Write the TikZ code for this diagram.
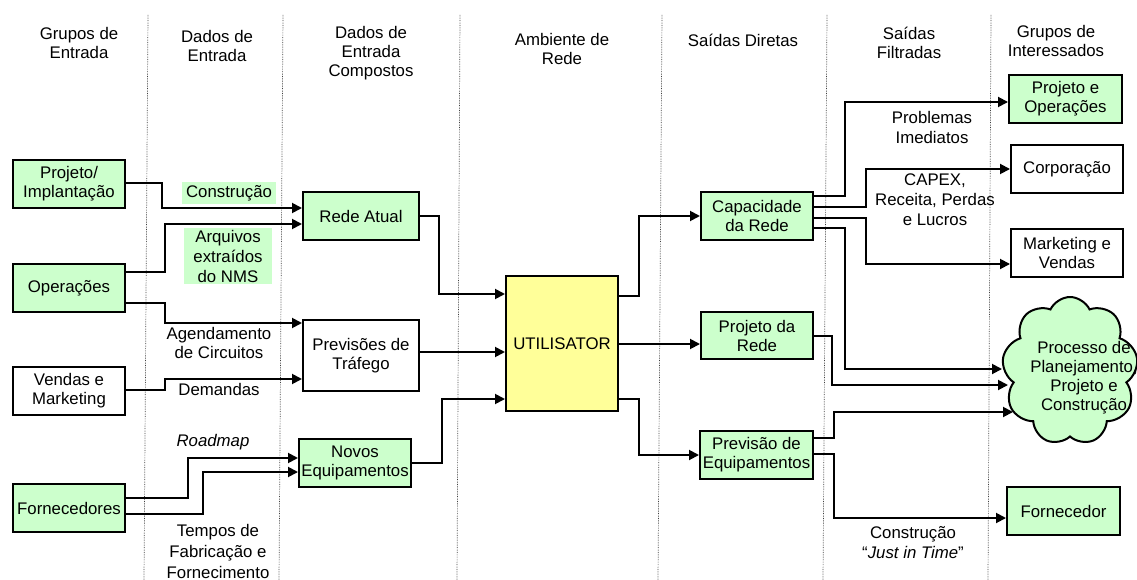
\documentclass[tikz,border=0pt]{standalone}
\usepackage{fontspec}
\setmainfont{Liberation Sans}
\usetikzlibrary{arrows.meta,shapes.symbols}
\definecolor{boxgreen}{HTML}{CCFFCC}
\definecolor{boxyellow}{HTML}{FFFF99}
\begin{document}
\begin{tikzpicture}[x=1pt,y=-1pt,
  font=\fontsize{16.8}{19}\selectfont,
  box/.style={draw, line width=2pt, align=center, inner sep=0pt,
              minimum width=112pt, minimum height=48pt},
  gbox/.style={box, fill=boxgreen},
  wbox/.style={box, fill=white},
  arr/.style={line width=1.9pt, -{Triangle[length=10pt,width=10pt]}},
  lbl/.style={align=center, inner sep=0pt},
  hl/.style={lbl, fill=boxgreen},
  sep/.style={densely dotted, line width=0.7pt, black!75}
]
\useasboundingbox (0,0) rectangle (1137,580);

% column separators
\draw[sep] (148,15) -- (144,580);
\draw[sep] (283,15) -- (279,580);
\draw[sep] (460,15) -- (457,580);
\draw[sep] (662,15) -- (658,580);
\draw[sep] (827,15) -- (823,580);
\draw[sep] (991,15) -- (988,580);

% column headings
\node[lbl] (h1) at (79,42.5)  {Grupos de\\Entrada};
\node[lbl] (h2) at (217,46)   {Dados de\\Entrada};
\node[lbl] (h3) at (371,53)   {Dados de\\Entrada\\Compostos};
\node[lbl] (h4) at (562,49)   {Ambiente de\\Rede};
\node[lbl] (h5) at (743,40)   {Saídas Diretas};
\node[lbl] (h6) at (909,42.5) {Saídas\\Filtradas};
\node[lbl] (h7) at (1056,41)  {Grupos de\\Interessados};

% input groups
\node[gbox] (pi) at (69,184) {Projeto/\\Implantação};
\node[gbox] (op) at (69,288) {Operações};
\node[wbox] (vm) at (69,391) {Vendas e\\Marketing};
\node[gbox] (fo) at (69,508) {Fornecedores};

% composed input data
\node[gbox, minimum width=116pt] (ra) at (361,216) {Rede Atual};
\node[wbox, minimum width=116pt, minimum height=71pt] (pt) at (361,355.5) {Previsões de\\Tráfego};
\node[gbox] (ne) at (355,463) {Novos\\Equipamentos};

% network environment
\node[box, fill=boxyellow, minimum height=135pt] (ut) at (562,343.5) {UTILISATOR};

% direct outputs
\node[gbox] (cr) at (757,216)   {Capacidade\\da Rede};
\node[gbox, minimum height=47pt] (pr) at (757,335.5) {Projeto da\\Rede};
\node[gbox, minimum width=113pt] (pe) at (756.5,455) {Previsão de\\Equipamentos};

% stakeholder groups
\node[gbox, minimum width=113pt] (po) at (1065.5,99) {Projeto e\\Operações};
\node[wbox] (co) at (1067,169) {Corporação};
\node[wbox] (mv) at (1067,253) {Marketing e\\Vendas};
\node[gbox, minimum width=113pt] (fr) at (1063.5,511) {Fornecedor};
\node[cloud, draw, line width=2pt, fill=boxgreen, cloud puffs=9, cloud puff arc=130,
      cloud ignores aspect, minimum width=136pt, minimum height=148pt, inner sep=0pt]
      (cl) at (1070,371) {};
\node[lbl] (clt) at (1084,378) {Processo de\\Planejamento,\\Projeto e\\Construção};
\coordinate (cl1) at (1002,369);
\coordinate (cl2) at (1008,385);
\coordinate (cl3) at (1013,412);

% edge labels
\node[hl, minimum width=94pt, minimum height=22pt] (lc) at (229,193) {Construção};
\node[hl, minimum width=88pt, minimum height=56pt,
      font=\fontsize{16.8}{20}\selectfont] (la) at (228,256) {Arquivos\\extraídos\\do NMS};
\node[lbl] (lag) at (219,343) {Agendamento\\de Circuitos};
\node[lbl] (ld) at (219,389) {Demandas};
\node[lbl, font=\fontsize{16.8}{19}\selectfont\itshape] (lr) at (213,442) {Roadmap};
\node[lbl, font=\fontsize{16.8}{21}\selectfont] (lt) at (218,551) {Tempos de\\Fabricação e\\Fornecimento};
\node[lbl, font=\fontsize{16.8}{20}\selectfont] (lp) at (932,127) {Problemas\\Imediatos};
\node[lbl, font=\fontsize{16.8}{20}\selectfont] (lx) at (935,200) {CAPEX,\\Receita, Perdas\\e Lucros};
\node[lbl, font=\fontsize{16.8}{20}\selectfont] (lj) at (913,543) {Construção\\“\textit{Just in Time}”};

% inputs to composed data
\draw[arr] (pi.east |- 0,183) -- (162,183) |- (ra.west |- 0,208);
\draw[arr] (op.east |- 0,272) -- (165,272) |- (ra.west |- 0,224);
\draw[arr] (op.east |- 0,303) -- (165,303) |- (pt.west |- 0,323);
\draw[arr] (vm.east |- 0,390) -- (165,390) |- (pt.west |- 0,379);
\draw[arr] (fo.east |- 0,498) -- (188,498) |- (ne.west |- 0,458);
\draw[arr] (fo.east |- 0,514) -- (203,514) |- (ne.west |- 0,472);

% composed data to UTILISATOR
\draw[arr] (ra.east) -- (439,216) |- (ut.west |- 0,294);
\draw[arr] (pt.east |- 0,352) -- (ut.west |- 0,352);
\draw[arr] (ne.east) -- (442,463) |- (ut.west |- 0,399);

% UTILISATOR to direct outputs
\draw[arr] (ut.east |- 0,296) -- (639,296) |- (cr.west);
\draw[arr] (ut.east |- 0,344) -- (pr.west |- 0,344);
\draw[arr] (ut.east |- 0,399) -- (639,399) |- (pe.west);

% filtered outputs to stakeholders
\draw[arr] (cr.east |- 0,196) -- (845,196) |- (po.west |- 0,102);
\draw[arr] (cr.east |- 0,207) -- (866,207) |- (co.west);
\draw[arr] (cr.east |- 0,218) -- (866,218) |- (mv.west |- 0,264);
\draw[arr] (cr.east |- 0,228) -- (845,228) |- (cl1);
\draw[arr] (pr.east |- 0,336) -- (832,336) |- (cl2);
\draw[arr] (pe.east |- 0,438) -- (834,438) |- (cl3);
\draw[arr] (pe.east |- 0,454) -- (834,454) |- (fr.west |- 0,518);
\end{tikzpicture}
\end{document}
